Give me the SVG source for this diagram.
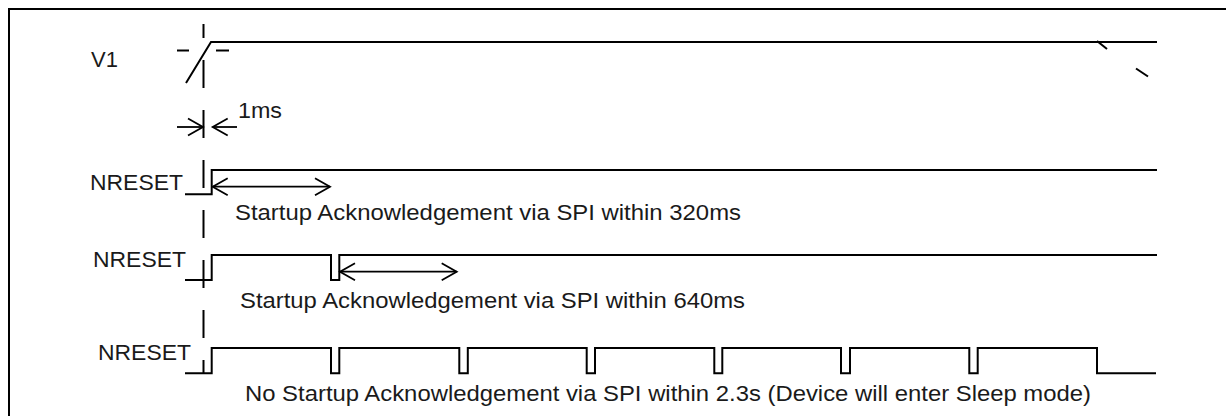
<svg xmlns="http://www.w3.org/2000/svg" width="1226" height="416" viewBox="0 0 1226 416">
<style>
.w{fill:none;stroke:#000;stroke-width:2;stroke-linejoin:miter}
.t{font-family:"Liberation Sans",Arial,sans-serif;font-size:22px;fill:#1a1a1a}
.a{fill:none;stroke:#000;stroke-width:1.8}
.d{fill:none;stroke:#000;stroke-width:2;stroke-dasharray:28 22;stroke-dashoffset:14}
</style>
<defs>
<marker id="ah" markerUnits="userSpaceOnUse" markerWidth="20" markerHeight="20" viewBox="-16 -10 20 20" refX="0" refY="0" orient="auto-start-reverse">
<path d="M-15,-8.5 L0,0 L-15,8.5" fill="none" stroke="#000" stroke-width="1.8"/>
</marker>
</defs>
<rect width="1226" height="416" fill="#fff"/>
<path class="w" d="M9,420 V9 H1230"/>
<g id="ref-line">
<line class="d" x1="203.5" y1="24" x2="203.5" y2="373"/>
</g>
<g id="v1">
<text class="t" x="91" y="67">V1</text>
<line class="w" x1="177" y1="50.5" x2="189" y2="50.5"/>
<line class="w" x1="216" y1="50.5" x2="229" y2="50.5"/>
<path class="w" d="M186,83 L211,42 H1157"/>
<line class="w" x1="1097" y1="41" x2="1107" y2="49"/>
<line class="w" x1="1136" y1="68.5" x2="1148" y2="76.5"/>
</g>
<g id="nreset1">
<text class="t" x="90" y="190" textLength="93" lengthAdjust="spacingAndGlyphs">NRESET</text>
<path class="w" d="M185,194.3 H211.7 V170 H1157"/>
<text class="t" x="235" y="220" textLength="506" lengthAdjust="spacingAndGlyphs">Startup Acknowledgement via SPI within 320ms</text>
</g>
<g id="nreset2">
<text class="t" x="93" y="266.7" textLength="93" lengthAdjust="spacingAndGlyphs">NRESET</text>
<path class="w" d="M185,280 H211.7 V255 H331 V280 H339.3 V255 H1157"/>
<text class="t" x="240" y="308.3" textLength="505" lengthAdjust="spacingAndGlyphs">Startup Acknowledgement via SPI within 640ms</text>
</g>
<g id="nreset3">
<text class="t" x="98" y="360" textLength="93" lengthAdjust="spacingAndGlyphs">NRESET</text>
<path class="w" d="M185,373.3 H211.7 V348 H331 V373.3 H339.3 V348 H459.3 V373.3 H467.8 V348 H586.7 V373.3 H595 V348 H714.3 V373.3 H722.3 V348 H841 V373.3 H850 V348 H969.3 V373.3 H977.7 V348 H1097 V373.3 H1156"/>
<text class="t" x="245" y="401" textLength="846" lengthAdjust="spacingAndGlyphs">No Startup Acknowledgement via SPI within 2.3s (Device will enter Sleep mode)</text>
</g>
<g id="connectors">
<line class="a" x1="177" y1="127" x2="203" y2="127" marker-end="url(#ah)"/>
<line class="a" x1="237" y1="127" x2="212.7" y2="127" marker-end="url(#ah)"/>
<line class="a" x1="212.7" y1="186.7" x2="330" y2="186.7" marker-start="url(#ah)" marker-end="url(#ah)"/>
<line class="a" x1="340" y1="271.7" x2="456.7" y2="271.7" marker-start="url(#ah)" marker-end="url(#ah)"/>
<text class="t" x="238" y="118" textLength="44" lengthAdjust="spacingAndGlyphs">1ms</text>
</g>
</svg>
